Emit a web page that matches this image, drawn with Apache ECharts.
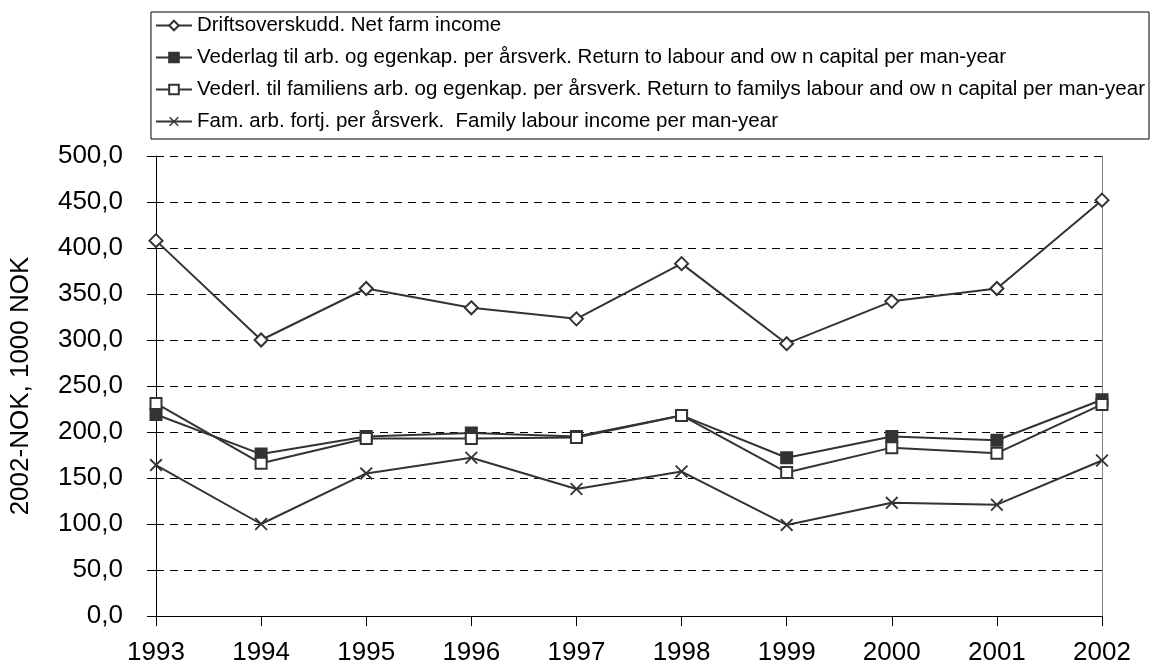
<!DOCTYPE html>
<html>
<head>
<meta charset="utf-8">
<script src="https://cdn.jsdelivr.net/npm/echarts@6/dist/echarts.min.js"></script>
<style>html,body{margin:0;padding:0;background:#fff;}#c{width:1151px;height:672px;}</style>
</head>
<body>
<div id="c"></div>
<script>
const years = ['1993','1994','1995','1996','1997','1998','1999','2000','2001','2002'];
const netFarmIncome = [408, 300, 356, 335, 323, 383, 296, 342, 356, 452];
const returnLabourCapital = [219, 176, 195, 199, 195, 218, 172, 195, 191, 235];
const returnFamilyLabourCapital = [231, 166, 193, 193, 194, 218, 156, 183, 177, 230];
const familyLabourIncome = [164, 100, 155, 172, 138, 157, 99, 123, 121, 169];
const seriesNames = [
  'Driftsoverskudd. Net farm income',
  'Vederlag til arb. og egenkap. per årsverk. Return to labour and ow n capital per man-year',
  'Vederl. til familiens arb. og egenkap. per årsverk. Return to familys labour and ow n capital per man-year',
  'Fam. arb. fortj. per årsverk.  Family labour income per man-year'
];
const yAxisName = '2002-NOK, 1000 NOK';

const FONT = '"Liberation Sans", Arial, sans-serif';
const LINE = '#333333';
const X_PATH = 'path://M0,1 L1,0 L5,4 L9,0 L10,1 L6,5 L10,9 L9,10 L5,6 L1,10 L0,9 L4,5 Z';

function mk(name, data, symbol, size, fill) {
  return {
    name: name, type: 'line', data: data,
    symbol: symbol, symbolSize: size, showAllSymbol: true,
    lineStyle: {color: LINE, width: 2},
    itemStyle: {color: fill, borderColor: LINE, borderWidth: symbol === X_PATH ? 0 : 2},
    emphasis: {disabled: true},
    z: 3
  };
}

const chart = echarts.init(document.getElementById('c'), null, {renderer: 'canvas'});
chart.setOption({
  backgroundColor: '#ffffff',
  animation: false,
  textStyle: {fontFamily: FONT},
  grid: {left: 156, right: 49, top: 156, bottom: 56, containLabel: false},
  legend: {
    orient: 'vertical', right: 2, top: 12,
    backgroundColor: '#ffffff', borderColor: '#000000', borderWidth: 1,
    padding: [3, 4, 7, 4], itemGap: 11, itemWidth: 36, itemHeight: 12,
    textStyle: {fontFamily: FONT, fontSize: 20.5, color: '#000'},
    data: seriesNames
  },
  xAxis: {
    type: 'category', data: years, boundaryGap: false,
    axisLine: {show: true, lineStyle: {color: '#000', width: 1}},
    axisTick: {show: true, length: 10, inside: false, lineStyle: {color: '#000'}},
    axisLabel: {fontFamily: FONT, fontSize: 26, color: '#000', margin: 24},
    splitLine: {show: false}
  },
  yAxis: [{
    type: 'value', min: 0, max: 500, interval: 50,
    name: yAxisName, nameLocation: 'middle', nameGap: 122, nameRotate: 90,
    nameTextStyle: {fontFamily: FONT, fontSize: 26, color: '#000'},
    axisLine: {show: true, lineStyle: {color: '#000', width: 1}},
    axisTick: {show: true, length: 9, lineStyle: {color: '#000'}},
    axisLabel: {fontFamily: FONT, fontSize: 26, color: '#000', margin: 33,
      formatter: v => v.toFixed(1).replace('.', ',')},
    splitLine: {show: true, lineStyle: {color: '#000', type: [8, 6], width: 1}}
  }, {
    type: 'value', min: 0, max: 500, interval: 50, position: 'right',
    axisLine: {show: true, lineStyle: {color: '#808080', width: 1}},
    axisTick: {show: false}, axisLabel: {show: false}, splitLine: {show: false}
  }],
  series: [
    mk(seriesNames[0], netFarmIncome, 'diamond', 13, '#ffffff'),
    mk(seriesNames[1], returnLabourCapital, 'rect', 11, LINE),
    mk(seriesNames[2], returnFamilyLabourCapital, 'rect', 11, '#ffffff'),
    mk(seriesNames[3], familyLabourIncome, X_PATH, 13, LINE)
  ]
});
</script>
</body>
</html>
